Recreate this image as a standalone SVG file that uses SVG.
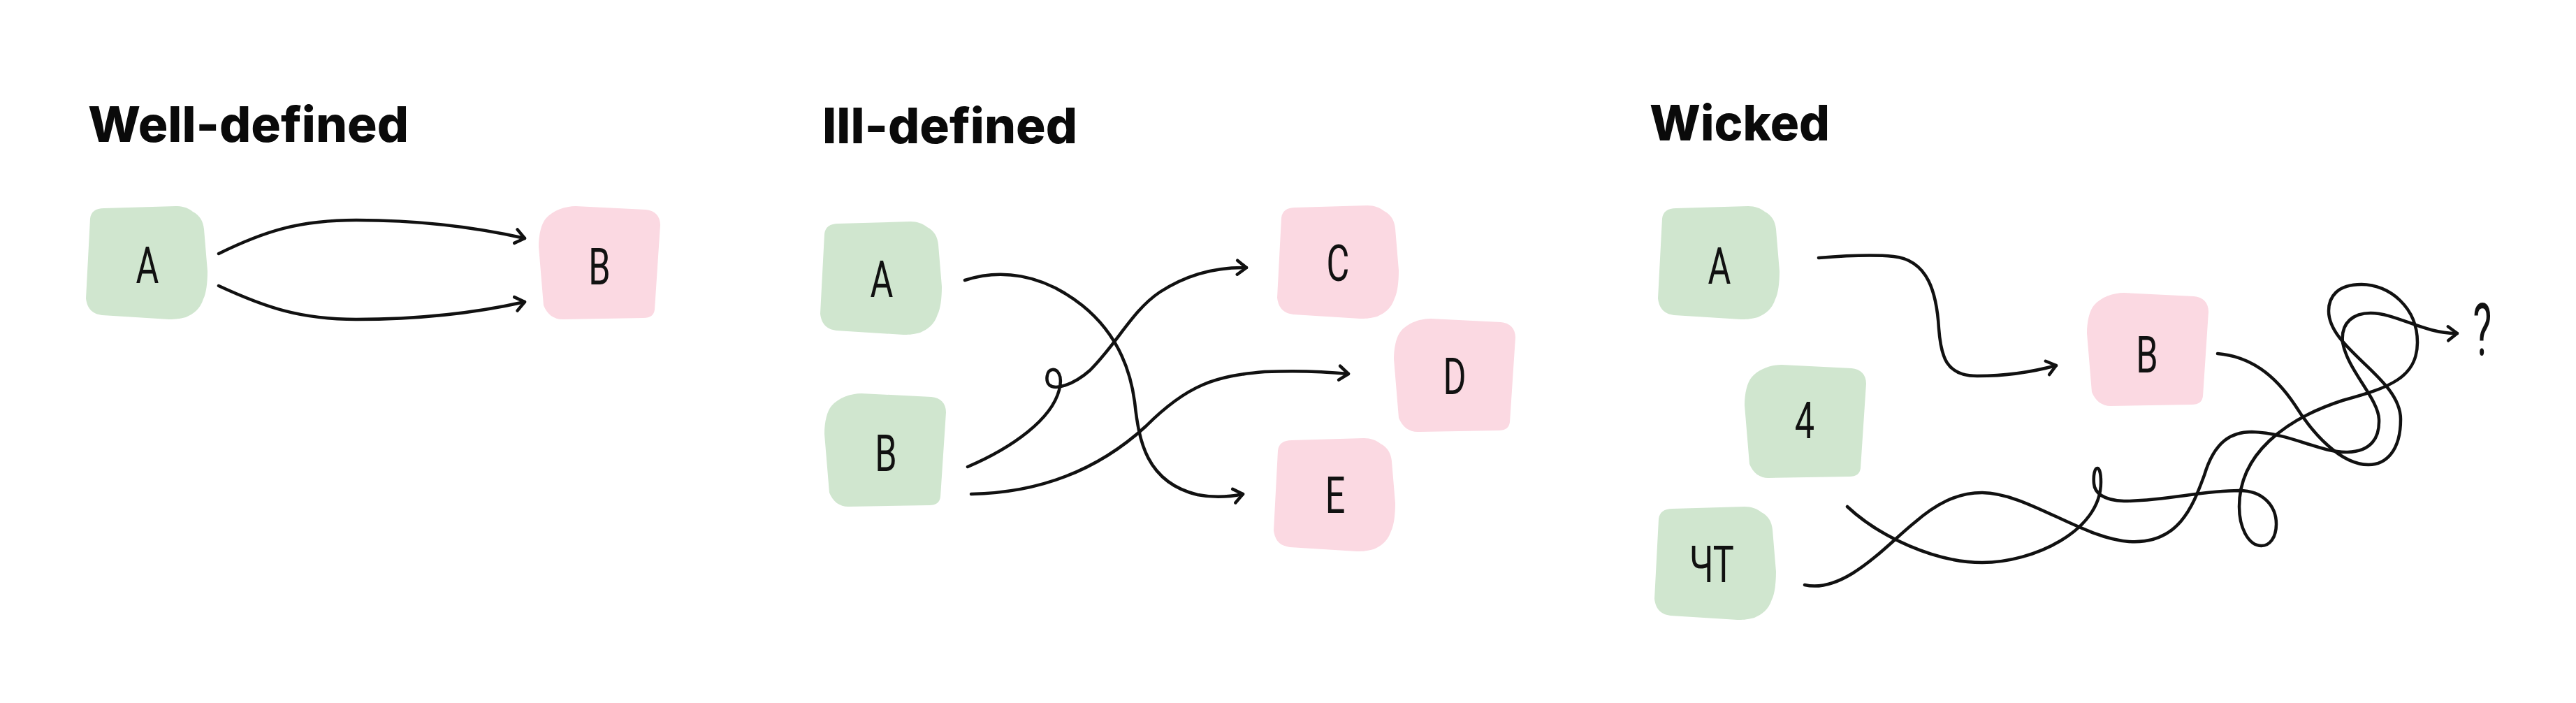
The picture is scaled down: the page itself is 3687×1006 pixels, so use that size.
<svg xmlns="http://www.w3.org/2000/svg" xmlns:xlink="http://www.w3.org/1999/xlink" width="3687" height="1006" viewBox="0 0 3687 1006">
<style>
.title{font-family:Inter,"Open Sans","Liberation Sans",sans-serif;font-weight:800;font-size:70px;fill:#0a0a0a}
.lbl{font-family:Roboto,"Noto Sans","DejaVu Sans",sans-serif;font-weight:400;font-size:72px;fill:#111;text-anchor:middle}
.green{fill:#d0e6cf}
.pink{fill:#fbd9e2}
.con{fill:none;stroke:#111;stroke-width:4.5;stroke-linecap:round;stroke-linejoin:round}
</style>
<defs>
<path id="shape1" d="M 26,3 L 129,0 C 139,0 147,3 153,8 C 163,13 168,22 169,33 L 174,93 C 174,110 172,125 168,133 C 163,148 154,154 143,159 C 131,162 125,162 119,162 L 23,156 C 10,154 2,148 0,132 L 6,18 C 7,8 14,3 26,3 Z"/>
<path id="shape2" d="M 53,0 L 153,5 C 166,6 174,14 174,27 L 166,148 C 165,156 160,160 150,160 L 34,162 C 22,162 12,155 7,142 L 0,58 C 0,40 4,25 10,18 C 20,6 38,0 53,0 Z"/>
<marker id="ah" markerUnits="userSpaceOnUse" markerWidth="40" markerHeight="40" viewBox="-20 -20 40 40" refX="0" refY="0" orient="auto" overflow="visible">
<path d="M -13,-10 L 0,0 L -13,10" fill="none" stroke="#111" stroke-width="4.5" stroke-linecap="round" stroke-linejoin="round"/>
</marker>
</defs>
<rect width="3687" height="1006" fill="#ffffff"/>

<g id="titles">
<text class="title" x="126" y="203" textLength="459" lengthAdjust="spacingAndGlyphs">Well-defined</text>
<text class="title" x="1177" y="205" textLength="365" lengthAdjust="spacingAndGlyphs">Ill-defined</text>
<text class="title" x="2361" y="201" textLength="258" lengthAdjust="spacingAndGlyphs">Wicked</text>
</g>

<g id="wd-A"><use href="#shape1" class="green" transform="translate(123,295)"/><text class="lbl" transform="translate(211,405) scale(0.7,1)">A</text></g>
<g id="wd-B"><use href="#shape2" class="pink" transform="translate(771,295)"/><text class="lbl" transform="translate(858,407) scale(0.7,1)">B</text></g>

<g id="id-A"><use href="#shape1" class="green" transform="translate(1174,317)"/><text class="lbl" transform="translate(1262,425) scale(0.7,1)">A</text></g>
<g id="id-B"><use href="#shape2" class="green" transform="translate(1180,563)"/><text class="lbl" transform="translate(1268,674) scale(0.7,1)">B</text></g>
<g id="id-C"><use href="#shape1" class="pink" transform="translate(1828,294)"/><text class="lbl" transform="translate(1915,402) scale(0.7,1)">C</text></g>
<g id="id-D"><use href="#shape2" class="pink" transform="translate(1995,456)"/><text class="lbl" transform="translate(2082,564) scale(0.7,1)">D</text></g>
<g id="id-E"><use href="#shape1" class="pink" transform="translate(1823,627)"/><text class="lbl" transform="translate(1911,734) scale(0.7,1)">E</text></g>

<g id="w-A"><use href="#shape1" class="green" transform="translate(2373,295)"/><text class="lbl" transform="translate(2461,406) scale(0.7,1)">A</text></g>
<g id="w-4"><use href="#shape2" class="green" transform="translate(2497,522)"/><text class="lbl" transform="translate(2583,627) scale(0.7,1)">4</text></g>
<g id="w-CT"><use href="#shape1" class="green" transform="translate(2368,725)"/><text class="lbl" transform="translate(2450,833) scale(0.7,1)">ЧТ</text></g>
<g id="w-B"><use href="#shape2" class="pink" transform="translate(2987,419)"/><text class="lbl" transform="translate(3073,533) scale(0.7,1)">B</text></g>
<g id="w-q"><text class="lbl" style="font-size:103px" transform="translate(3553,508) scale(0.55,1)">?</text></g>

<g id="connectors">
<path class="con" marker-end="url(#ah)" d="M 313,363 C 380,330 430,315 510,315 C 600,315 680,325 751,341"/>
<path class="con" marker-end="url(#ah)" d="M 313,409 C 380,440 430,457 510,457 C 600,457 680,448 751,432"/>

<path class="con" marker-end="url(#ah)" d="M 1381,401 C 1430,385 1490,390 1549,437 C 1600,478 1618,530 1624,575 C 1630,630 1640,690 1714,708 C 1740,713 1760,711 1779,707"/>
<path class="con" marker-end="url(#ah)" d="M 1385,668 C 1450,640 1505,600 1516,558 C 1522,535 1512,528 1506,529 C 1498,530 1496,545 1502,551 C 1510,558 1535,552 1560,530 C 1600,490 1620,445 1660,418 C 1700,392 1740,382 1784,383"/>
<path class="con" marker-end="url(#ah)" d="M 1390,707 C 1500,705 1580,665 1640,610 C 1700,550 1740,538 1810,532 C 1860,530 1900,532 1930,535"/>

<path class="con" marker-end="url(#ah)" d="M 2603,369 C 2640,366 2680,364 2710,367 C 2760,372 2772,420 2775,470 C 2778,510 2785,538 2830,538 C 2870,538 2910,532 2943,523"/>
<path class="con" d="M 2644,725 C 2690,768 2770,805 2837,805 C 2910,805 3007,760 3007,690 C 3007,675 3004,670 3002,670 C 2998,670 2996,680 2997,692 C 2998,705 3010,716 3040,717 C 3100,717 3150,702 3205,702 C 3240,702 3258,725 3258,750 C 3258,770 3248,781 3237,781 C 3218,781 3205,755 3205,725 C 3205,650 3270,600 3353,573 C 3420,555 3460,540 3460,490 C 3460,440 3420,407 3380,407 C 3345,407 3333,425 3333,445 C 3333,500 3436,540 3436,600 C 3436,645 3415,665 3390,665 C 3350,665 3310,620 3285,580 C 3255,535 3220,510 3174,506"/>
<path class="con" marker-end="url(#ah)" d="M 2583,837 C 2640,850 2700,780 2740,748 C 2770,722 2800,705 2837,705 C 2900,705 2980,770 3047,775 C 3120,780 3140,720 3155,680 C 3170,630 3195,618 3223,618 C 3280,620 3320,648 3360,647 C 3395,646 3406,625 3405,600 C 3404,570 3360,530 3353,490 C 3350,460 3370,448 3393,448 C 3430,448 3470,478 3517,477"/>
</g>
</svg>
